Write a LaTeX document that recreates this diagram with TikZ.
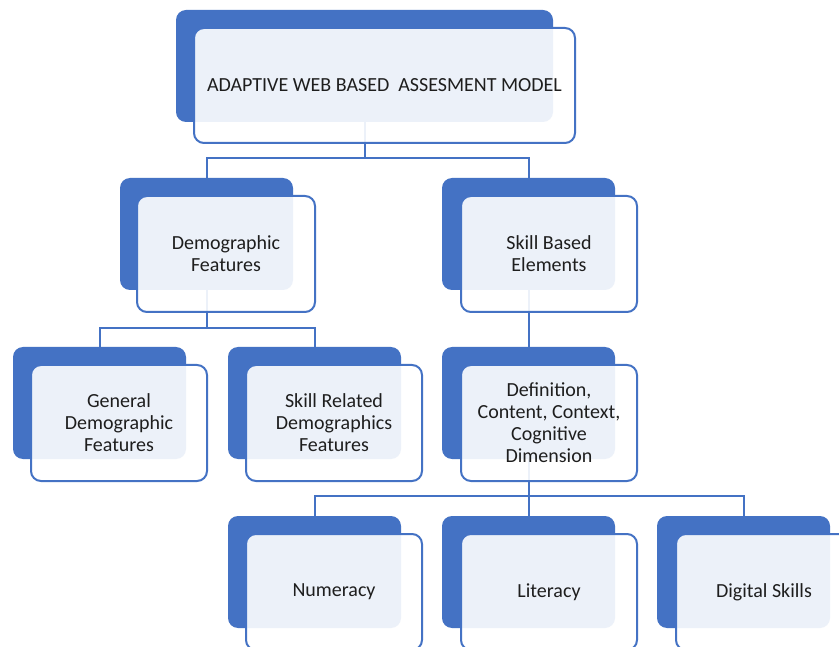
\documentclass[tikz,border=0pt]{standalone}
\usepackage{fontspec}
\setmainfont{Carlito}
\definecolor{myblue}{RGB}{68,114,196}
\definecolor{txt}{RGB}{30,30,30}
\pgfdeclarelayer{bg}
\pgfsetlayers{bg,main}
\tikzset{
  back/.style={draw=none, fill=myblue, rounded corners=10pt, anchor=north west, inner sep=0pt, outer sep=0pt},
  front/.style={draw=myblue, line width=2pt, fill=white, fill opacity=0.9, text opacity=1, rounded corners=10pt, anchor=north west, inner sep=0pt, outer sep=0pt, align=center, font=\fontsize{20}{22}\selectfont, text=txt},
  small/.style={minimum width=173pt, minimum height=112pt},
  smallf/.style={minimum width=176pt, minimum height=116pt},
  conn/.style={draw=myblue, line width=2pt}
}
\begin{document}
\begin{tikzpicture}[x=1pt,y=-1pt]
\useasboundingbox (0,0) rectangle (839,647);
% top
\node[back, minimum width=377pt, minimum height=112pt] (topB) at (176,10) {};
\node[front, minimum width=381pt, minimum height=115pt] (topF) at (194,28) {ADAPTIVE WEB BASED\ \ ASSESMENT MODEL};
% level 2
\node[back, small] (demB) at (120,178) {};
\node[front, smallf, minimum width=178pt] (demF) at (137,196) {Demographic\\Features};
\node[back, small] (sklB) at (442,178) {};
\node[front, smallf] (sklF) at (461,196) {Skill Based\\Elements};
% level 3
\node[back, small] (genB) at (13,347) {};
\node[front, smallf] (genF) at (31,365) {General\\Demographic\\Features};
\node[back, small] (srdB) at (228,347) {};
\node[front, smallf] (srdF) at (246,365) {Skill Related\\Demographics\\Features};
\node[back, small] (defB) at (442,347) {};
\node[front, smallf] (defF) at (461,365) {Definition,\\Content, Context,\\Cognitive\\Dimension};
% level 4
\node[back, small] (numB) at (228,516) {};
\node[front, smallf] (numF) at (246,534) {Numeracy};
\node[back, small] (litB) at (442,516) {};
\node[front, smallf] (litF) at (461,534) {Literacy};
\node[back, small] (digB) at (657,516) {};
\node[front, smallf] (digF) at (676,534) {Digital Skills};
% connectors
\begin{pgfonlayer}{bg}
\fill[white] (0,0) rectangle (839,647);
\draw[conn] (topB.south) -- ++(0,36) -| (demB.north);
\draw[conn] (topB.south) -- ++(0,36) -| (sklB.north);
\draw[conn] (demB.south) -- ++(0,38) -| (genB.north);
\draw[conn] (demB.south) -- ++(0,38) -| (srdB.north);
\draw[conn] (sklB.south) -- (defB.north);
\draw[conn] (defB.south) -- ++(0,37) -| (numB.north);
\draw[conn] (defB.south) -- ++(0,37) -| (litB.north);
\draw[conn] (defB.south) -- ++(0,37) -| (digB.north);
\end{pgfonlayer}
\end{tikzpicture}
\end{document}
